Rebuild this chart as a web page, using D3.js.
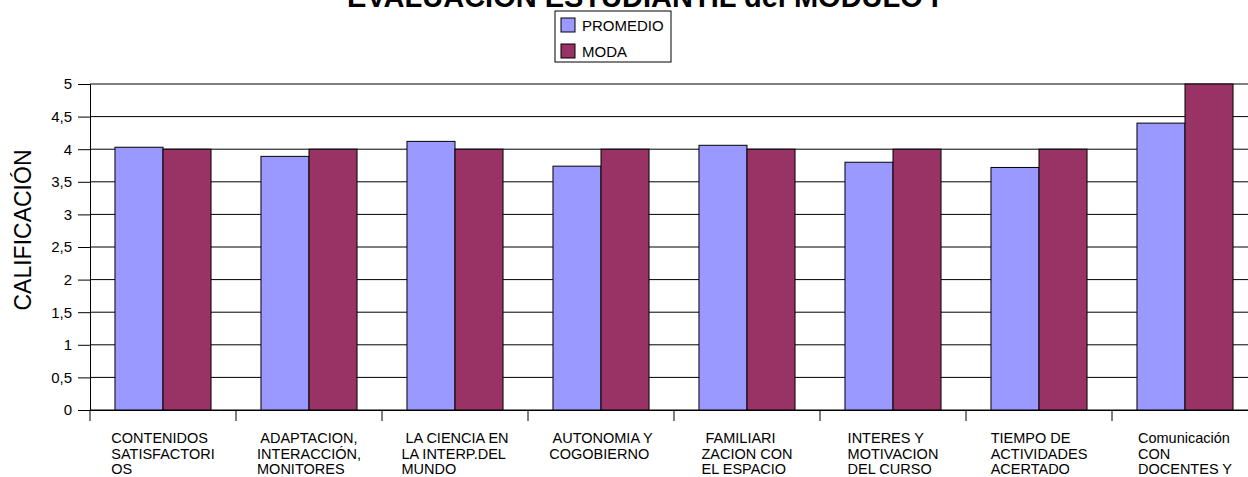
<!DOCTYPE html>
<html>
<head>
<meta charset="utf-8">
<script src="https://cdn.jsdelivr.net/npm/d3@7.9.0/dist/d3.min.js"></script>
<style>
  body { margin: 0; background: #fff; overflow: hidden; }
  svg { display: block; font-family: "Liberation Sans", Arial, sans-serif; }
</style>
</head>
<body>
<div id="chart"></div>
<script>
const categories = [
  ['CONTENIDOS', 'SATISFACTORI', 'OS'],
  [' ADAPTACION,', 'INTERACCIÓN,', 'MONITORES'],
  [' LA CIENCIA EN', 'LA INTERP.DEL', 'MUNDO'],
  [' AUTONOMIA Y', 'COGOBIERNO'],
  [' FAMILIARI', 'ZACION CON', 'EL ESPACIO'],
  ['INTERES Y', 'MOTIVACION', 'DEL CURSO'],
  ['TIEMPO DE', 'ACTIVIDADES', 'ACERTADO'],
  ['Comunicación', 'CON', 'DOCENTES Y']
];
const seriesNames = ['PROMEDIO', 'MODA'];
const promedio = [4.03, 3.89, 4.12, 3.74, 4.06, 3.80, 3.72, 4.40];
const moda = [4, 4, 4, 4, 4, 4, 4, 5];
const yTicks = [0, 0.5, 1, 1.5, 2, 2.5, 3, 3.5, 4, 4.5, 5];
const colors = { PROMEDIO: '#9999ff', MODA: '#993366' };

const width = 1248, height = 477;
const margin = { left: 90, top: 84, bottom: 67 };
const band = 146;

const svg = d3.select('#chart').append('svg')
  .attr('width', width)
  .attr('height', height);

const rows = categories.map((c, i) => ({ idx: i, lines: c, PROMEDIO: promedio[i], MODA: moda[i] }));

const x0 = d3.scaleBand()
  .domain(d3.range(categories.length))
  .range([margin.left, margin.left + band * categories.length])
  .padding(0);

const x1 = d3.scaleBand()
  .domain(seriesNames)
  .range([0, x0.bandwidth()])
  .paddingInner(0)
  .paddingOuter(0.52);

const y = d3.scaleLinear()
  .domain([0, 5])
  .range([height - margin.bottom, margin.top]);

// title (clipped at top like the original)
svg.append('text')
  .attr('x', 643)
  .attr('y', 7)
  .attr('text-anchor', 'middle')
  .attr('font-weight', 'bold')
  .attr('font-size', 29)
  .text('EVALUACIÓN ESTUDIANTIL del MODULO I');

// gridlines
svg.append('g')
  .attr('class', 'grid')
  .selectAll('line')
  .data(yTicks)
  .join('line')
  .attr('x1', margin.left)
  .attr('x2', width)
  .attr('y1', d => y(d))
  .attr('y2', d => y(d))
  .attr('stroke', '#000')
  .attr('stroke-width', 1);

// bars
const groups = svg.append('g')
  .selectAll('g')
  .data(rows)
  .join('g')
  .attr('transform', d => `translate(${x0(d.idx)},0)`);

groups.selectAll('rect')
  .data(d => seriesNames.map(k => ({ key: k, value: d[k] })))
  .join('rect')
  .attr('x', d => x1(d.key))
  .attr('y', d => y(d.value))
  .attr('width', x1.bandwidth())
  .attr('height', d => y(0) - y(d.value))
  .attr('fill', d => colors[d.key])
  .attr('stroke', '#000')
  .attr('stroke-width', 1);

// y axis
const yAxis = svg.append('g')
  .attr('transform', `translate(${margin.left},0)`)
  .call(d3.axisLeft(y).tickValues(yTicks).tickSize(12).tickPadding(6)
    .tickFormat(d => String(d).replace('.', ',')));
yAxis.select('.domain').attr('stroke', '#000');
yAxis.selectAll('.tick line').attr('stroke', '#000');
yAxis.selectAll('.tick text')
  .attr('font-size', 15)
  .attr('font-family', '"Liberation Sans", Arial, sans-serif')
  .attr('fill', '#000');

// x axis
const xAxis = svg.append('g')
  .attr('transform', `translate(0,${y(0)})`)
  .call(d3.axisBottom(x0).tickSize(0).tickFormat(''));
xAxis.select('.domain').attr('stroke', '#000');
xAxis.selectAll('.tick').remove();
xAxis.selectAll('line.sep')
  .data(d3.range(categories.length + 1))
  .join('line')
  .attr('class', 'sep')
  .attr('x1', d => margin.left + d * band)
  .attr('x2', d => margin.left + d * band)
  .attr('y1', 0)
  .attr('y2', 11)
  .attr('stroke', '#000');

// category labels: left-aligned lines, block centred on band
const labels = svg.append('g')
  .attr('font-size', 14.5)
  .attr('fill', '#000');

rows.forEach(r => {
  const t = labels.append('text')
    .attr('xml:space', 'preserve')
    .style('white-space', 'pre');
  r.lines.forEach((ln, j) => {
    t.append('tspan')
      .attr('y', y(0) + 33 + j * 15.5)
      .text(ln);
  });
  const widths = [];
  t.selectAll('tspan').each(function () { widths.push(this.getComputedTextLength()); });
  const w = d3.max(widths);
  const cx = x0(r.idx) + x0.bandwidth() / 2;
  t.selectAll('tspan').attr('x', cx - w / 2);
});

// y axis title
svg.append('text')
  .attr('transform', 'translate(31,230) rotate(-90)')
  .attr('text-anchor', 'middle')
  .attr('font-size', 23)
  .text('CALIFICACIÓN');

// legend
const legend = svg.append('g').attr('transform', 'translate(555,11)');
legend.append('rect')
  .attr('width', 116)
  .attr('height', 51)
  .attr('fill', '#fff')
  .attr('stroke', '#000');
const li = legend.selectAll('g.item')
  .data(seriesNames)
  .join('g')
  .attr('class', 'item')
  .attr('transform', (d, i) => `translate(6,${7 + i * 26})`);
li.append('rect')
  .attr('width', 14)
  .attr('height', 14)
  .attr('fill', d => colors[d])
  .attr('stroke', '#000');
li.append('text')
  .attr('x', 21)
  .attr('y', 13)
  .attr('font-size', 15)
  .text(d => d);
</script>
</body>
</html>
